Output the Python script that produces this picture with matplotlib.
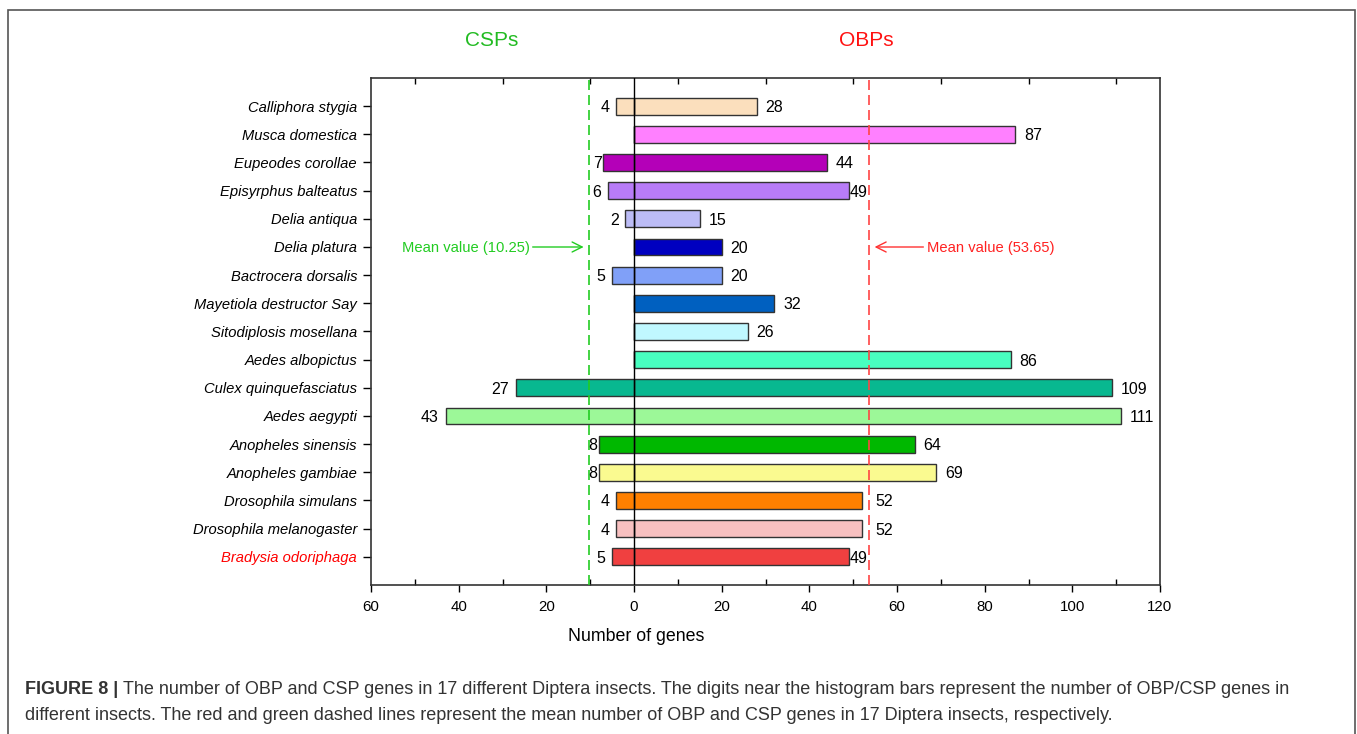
import matplotlib
matplotlib.use('Agg')
import matplotlib.pyplot as plt
from matplotlib.patches import Rectangle
from matplotlib.ticker import MultipleLocator, FuncFormatter

plt.rcParams['font.family'] = ['Liberation Sans', 'DejaVu Sans']

species = ['Calliphora stygia', 'Musca domestica', 'Eupeodes corollae', 'Episyrphus balteatus',
           'Delia antiqua', 'Delia platura', 'Bactrocera dorsalis', 'Mayetiola destructor Say',
           'Sitodiplosis mosellana', 'Aedes albopictus', 'Culex quinquefasciatus', 'Aedes aegypti',
           'Anopheles sinensis', 'Anopheles gambiae', 'Drosophila simulans',
           'Drosophila melanogaster', 'Bradysia odoriphaga']
obp = [28, 87, 44, 49, 15, 20, 20, 32, 26, 86, 109, 111, 64, 69, 52, 52, 49]
csp = [4, 0, 7, 6, 2, 0, 5, 0, 0, 0, 27, 43, 8, 8, 4, 4, 5]
colors = ['#fbdfbd', '#ff80ff', '#b400b8', '#b87cf8', '#bcbcf6', '#0000c0', '#80a0f8', '#0060c0',
          '#c0f8ff', '#48ffc0', '#08b890', '#9cf898', '#00b800', '#fafa90', '#ff8000',
          '#f8c0c0', '#f04040']
mean_obp = 53.65
mean_csp = 10.25

W, H = 1357, 734
fig = plt.figure(figsize=(W / 100, H / 100), dpi=100)
ax = fig.add_axes([371 / W, 1 - 585 / H, (1160 - 371) / W, (585 - 78) / H])

ypos = list(range(len(species)))
ax.barh(ypos, obp, height=0.6, color=colors, edgecolor='#333333', linewidth=1, zorder=2)
ax.barh(ypos, [-c for c in csp], height=0.6, color=colors, edgecolor='#333333', linewidth=1, zorder=2)
ax.axvline(0, color='black', lw=1, zorder=3)
ax.axvline(-mean_csp, color='#22cc22', lw=1.2, ls=(0, (6, 3)), zorder=3)
ax.axvline(mean_obp, color='#ff4444', lw=1.2, ls=(0, (6, 3)), zorder=3)

ax.set_xlim(-60, 120)
ax.set_ylim(len(species), -1)
ax.set_yticks(ypos)
ax.set_yticklabels(species, fontsize=10.6, style='italic')
ax.get_yticklabels()[-1].set_color('red')

ax.xaxis.set_major_locator(MultipleLocator(20))
ax.xaxis.set_minor_locator(MultipleLocator(10))
ax.xaxis.set_major_formatter(FuncFormatter(lambda v, p: '%d' % abs(v)))
ax.tick_params(axis='x', which='major', direction='out', length=5, width=1, labelsize=10.8, pad=6)
ax.tick_params(axis='x', which='minor', direction='in', length=4, width=1, top=True)
ax.tick_params(axis='y', direction='out', length=6, width=1, pad=4)
for s in ax.spines.values():
    s.set_color('#333333')
    s.set_linewidth(1.2)

# value labels, nudged so they don't sit on the mean lines
for y, v in enumerate(obp):
    w = 4.2 if v < 100 else 6.2
    x = v + 2.0
    if x < mean_obp < x + w:
        x = v + 0.3
        if x + w > mean_obp:
            x = mean_obp + 1.4
    elif mean_obp <= x < mean_obp + 1.2:
        x = mean_obp + 1.4
    ax.text(x, y, str(v), va='center_baseline', ha='left', fontsize=11.5)
for y, c in enumerate(csp):
    if c == 0:
        continue
    w = 2.1 if c < 10 else 4.2
    x = -c - 1.5
    if x - w < -mean_csp < x:
        x = -c - 0.3
    ax.text(x, y, str(c), va='center_baseline', ha='right', fontsize=11.5)

# mean annotations
ax.annotate('', xy=(-mean_csp - 0.6, 5), xytext=(-mean_csp - 13.5, 5),
            arrowprops=dict(arrowstyle='->', color='#22cc22', lw=1, mutation_scale=18))
ax.text(-mean_csp - 13.6, 5, 'Mean value (%.2f)' % mean_csp, color='#22cc22',
        ha='right', va='center_baseline', fontsize=10.6)
ax.annotate('', xy=(mean_obp + 0.6, 5), xytext=(mean_obp + 13, 5),
            arrowprops=dict(arrowstyle='->', color='#ff3333', lw=1, mutation_scale=18))
ax.text(mean_obp + 13.1, 5, 'Mean value (%.2f)' % mean_obp, color='#ff2222',
        ha='left', va='center_baseline', fontsize=10.6)

ax.set_xlabel('Number of genes', fontsize=12.8)
ax.xaxis.set_label_coords((636 - 371) / (1160 - 371), -0.085)
fig.text(492 / W, 1 - 40 / H, 'CSPs', color='#22bb22', fontsize=15, ha='center', va='center')
fig.text(866 / W, 1 - 40 / H, 'OBPs', color='#ff1111', fontsize=15, ha='center', va='center')

# outer frame
fig.add_artist(Rectangle((8 / W, -0.1), (1355 - 8) / W, 1.1 - 10 / H, transform=fig.transFigure,
                         fill=False, edgecolor='#555555', lw=1.2, clip_on=False))

# caption
cap_col = '#333333'
t1 = fig.text(25 / W, 1 - 690 / H, 'FIGURE 8 | ', fontsize=13, fontweight='bold', color=cap_col, va='center')
fig.canvas.draw()
bb = t1.get_window_extent()
fig.text(bb.x1 / W, 1 - 690 / H,
         'The number of OBP and CSP genes in 17 different Diptera insects. The digits near the histogram bars '
         'represent the number of OBP/CSP genes in', fontsize=13, color=cap_col, va='center')
fig.text(25 / W, 1 - 715 / H,
         'different insects. The red and green dashed lines represent the mean number of OBP and CSP genes '
         'in 17 Diptera insects, respectively.', fontsize=13, color=cap_col, va='center')

fig.savefig('out.png', dpi=100)
